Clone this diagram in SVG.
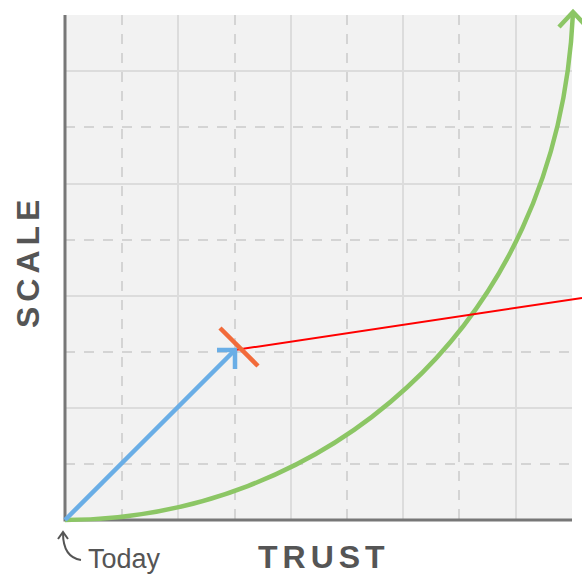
<svg xmlns="http://www.w3.org/2000/svg" width="582" height="574" viewBox="0 0 582 574">
<defs>
<style>
.grid{stroke:#dcdcdc;stroke-width:2;fill:none}
.dash{stroke:#d4d4d4;stroke-width:2;stroke-dasharray:10 9;fill:none}
.axis{stroke:#777;stroke-width:3;fill:none}
.lbl{font-family:"Liberation Sans",Arial,sans-serif;font-weight:bold;font-size:32px;fill:#555;letter-spacing:5px}
</style>
</defs>
<rect x="0" y="0" width="582" height="574" fill="#fff"/>
<g id="grid">
<rect x="65" y="15" width="507" height="505" fill="#f2f2f2"/>
<path class="dash" d="M122,15V520M235,15V520M347,15V520M459,15V520M65,127H572M65,240H572M65,352H572M65,464H572"/>
<path class="grid" d="M178,15V520M291,15V520M403,15V520M516,15V520M65,71H572M65,184H572M65,296H572M65,408H572"/>
<path class="axis" d="M65,15V521.5M64,520H572"/>
</g>
<g id="connectors" fill="none" stroke-linecap="butt">
<path d="M65,520 C315,520 558,335 573,13" stroke="#8cc665" stroke-width="4.5"/>
<path d="M559,27 L573,12 L587,27" stroke="#8cc665" stroke-width="4.5"/>
<path d="M235,350 L582,298" stroke="#ff0000" stroke-width="2"/>
<path d="M65,520 L234,351" stroke="#6aaee6" stroke-width="4.5"/>
<path d="M217,350 L235,350 L235,369" stroke="#6aaee6" stroke-width="4.5"/>
<path d="M220,328 L258,366" stroke="#f26b3a" stroke-width="4.5"/>
<path d="M81,560 C68,558 63,548 63,533" stroke="#555" stroke-width="2"/>
<path d="M58,539 L63,532 L68,539" stroke="#555" stroke-width="2"/>
</g>
<g id="today"><text x="88" y="568" font-family="Liberation Sans,Arial,sans-serif" font-size="27" fill="#555">Today</text></g>
<g id="trust"><text class="lbl" x="258" y="568">TRUST</text></g>
<g id="scale"><text class="lbl" x="39" y="328" transform="rotate(-90 39 328)">SCALE</text></g>
</svg>
